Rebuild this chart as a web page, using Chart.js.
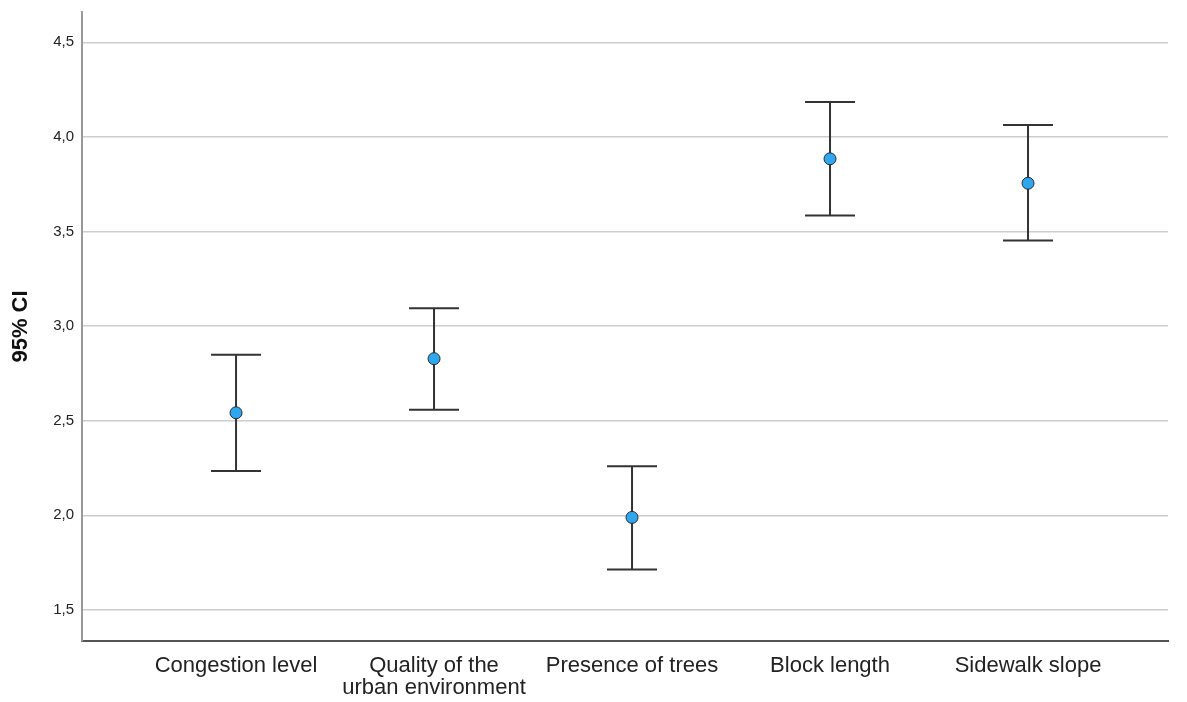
<!DOCTYPE html>
<html>
<head>
<meta charset="utf-8">
<script src="https://cdn.jsdelivr.net/npm/chart.js@4"></script>
<style>
  body{margin:0;background:#fff}
  #wrap{width:1187px;height:702px;position:relative}
</style>
</head>
<body>
<div id="wrap"><canvas id="chart"></canvas></div>
<script>
// values
const categories = ["Congestion level", ["Quality of the", "urban environment"], "Presence of trees", "Block length", "Sidewalk slope"];
const means = [2.542, 2.828, 1.989, 3.884, 3.755];
const lower = [2.235, 2.558, 1.714, 3.585, 3.452];
const upper = [2.849, 3.095, 2.259, 4.184, 4.063];
const yTicks = [1.5, 2.0, 2.5, 3.0, 3.5, 4.0, 4.5];

const errorBars = {
  id: "errorBars",
  beforeDatasetsDraw(chart){
    const {ctx, scales:{x, y}} = chart;
    ctx.save();
    ctx.strokeStyle = "#333";
    ctx.lineWidth = 2;
    means.forEach((m, i)=>{
      const px = x.getPixelForValue(i);
      const lo = y.getPixelForValue(lower[i]);
      const hi = y.getPixelForValue(upper[i]);
      ctx.beginPath();
      ctx.moveTo(px, lo); ctx.lineTo(px, hi);
      ctx.moveTo(px-25, lo); ctx.lineTo(px+25, lo);
      ctx.moveTo(px-25, hi); ctx.lineTo(px+25, hi);
      ctx.stroke();
    });
    ctx.restore();
  }
};

new Chart(document.getElementById("chart"), {
  type: "scatter",
  data: {
    datasets: [{
      data: means.map((m, i)=>({x:i, y:m})),
      pointRadius: 6,
      pointBackgroundColor: "#2ea6f0",
      pointBorderColor: "#2a2a2a",
      pointBorderWidth: 1
    }]
  },
  options: {
    responsive: true,
    maintainAspectRatio: false,
    animation: false,
    layout: { padding: { top: 12, right: 19, left: 0, bottom: 0 } },
    plugins: { legend:{display:false}, tooltip:{enabled:false} },
    scales: {
      x: {
        type: "linear",
        min: -0.778,
        max: 4.707,
        afterBuildTicks: s => { s.ticks = categories.map((c, i)=>({value:i})); },
        afterFit: s => { s.height = 61; s.paddingLeft = 0; s.paddingRight = 0; },
        grid: { display:false, drawTicks:false },
        border: { color:"#555", width:2 },
        ticks: {
          autoSkip: false,
          maxRotation: 0,
          padding: 14,
          color: "#222",
          font: { family:"Liberation Sans", size:22, lineHeight:1.0 },
          callback: v => categories[v]
        }
      },
      y: {
        min: 1.336,
        max: 4.66,
        afterBuildTicks: s => { s.ticks = yTicks.map(v=>({value:v})); },
        afterFit: s => { s.width = 82; s.paddingTop = 0; s.paddingBottom = 0; },
        grid: { color:"#cdcdcd", lineWidth:1.5, drawTicks:false },
        border: { color:"#999", width:2 },
        ticks: {
          padding: 8,
          color: "#222",
          font: { family:"Liberation Sans", size:15 },
          callback: v => v.toFixed(1).replace(".", ",")
        },
        title: {
          display: true,
          text: "95% CI",
          color: "#111",
          padding: { top: 8, bottom: 0 },
          font: { family:"Liberation Sans", size:22, weight:"bold" }
        }
      }
    }
  },
  plugins: [errorBars]
});
</script>
</body>
</html>
